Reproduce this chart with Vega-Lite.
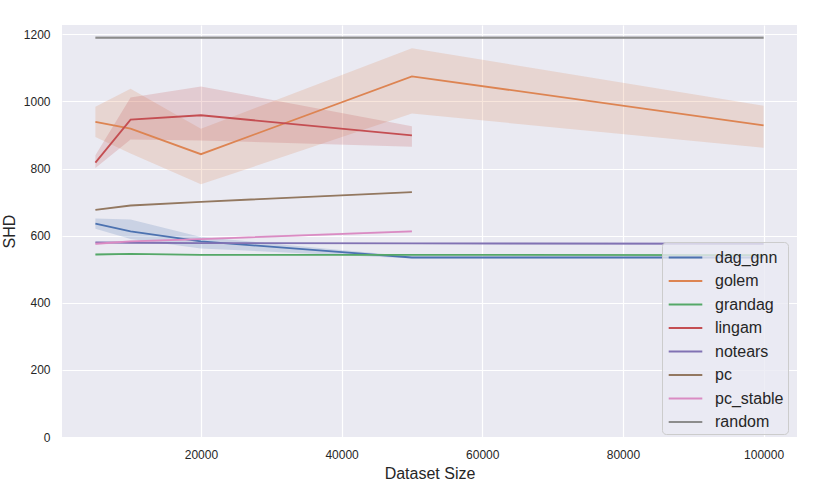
{
  "$schema": "https://vega.github.io/schema/vega-lite/v6.json",
  "width": 735,
  "height": 412,
  "autosize": {"type": "none"},
  "padding": {"left": 62, "top": 25, "right": 17, "bottom": 51},
  "background": "white",
  "config": {
    "font": "Liberation Sans",
    "view": {"fill": "#EAEAF2", "stroke": null},
    "axis": {
      "grid": true, "gridColor": "white", "gridWidth": 1.2, "domain": false, "ticks": false,
      "labelColor": "#262626", "labelFontSize": 12, "labelFont": "Liberation Sans",
      "titleColor": "#262626", "titleFontSize": 16, "titleFontWeight": "normal", "titleFont": "Liberation Sans"
    }
  },
  "data": {"values": [
    {"algo": "dag_gnn", "size": 5000, "shd": 636, "lo": 621, "hi": 651},
    {"algo": "dag_gnn", "size": 10000, "shd": 613, "lo": 590, "hi": 648},
    {"algo": "dag_gnn", "size": 20000, "shd": 583, "lo": 562, "hi": 596},
    {"algo": "dag_gnn", "size": 50000, "shd": 535, "lo": 532, "hi": 538},
    {"algo": "dag_gnn", "size": 100000, "shd": 535, "lo": 533, "hi": 537},
    {"algo": "golem", "size": 5000, "shd": 939, "lo": 894, "hi": 984},
    {"algo": "golem", "size": 10000, "shd": 919, "lo": 845, "hi": 1038},
    {"algo": "golem", "size": 20000, "shd": 843, "lo": 753, "hi": 919},
    {"algo": "golem", "size": 50000, "shd": 1075, "lo": 964, "hi": 1159},
    {"algo": "golem", "size": 100000, "shd": 929, "lo": 862, "hi": 987},
    {"algo": "grandag", "size": 5000, "shd": 544, "lo": 542, "hi": 546},
    {"algo": "grandag", "size": 10000, "shd": 546, "lo": 544, "hi": 548},
    {"algo": "grandag", "size": 20000, "shd": 543, "lo": 541, "hi": 545},
    {"algo": "grandag", "size": 50000, "shd": 543, "lo": 541, "hi": 545},
    {"algo": "grandag", "size": 100000, "shd": 542, "lo": 540, "hi": 544},
    {"algo": "lingam", "size": 5000, "shd": 818, "lo": 802, "hi": 840},
    {"algo": "lingam", "size": 10000, "shd": 946, "lo": 887, "hi": 1012},
    {"algo": "lingam", "size": 20000, "shd": 959, "lo": 884, "hi": 1045},
    {"algo": "lingam", "size": 50000, "shd": 899, "lo": 865, "hi": 926},
    {"algo": "notears", "size": 5000, "shd": 580, "lo": 578, "hi": 582},
    {"algo": "notears", "size": 10000, "shd": 579, "lo": 577, "hi": 581},
    {"algo": "notears", "size": 20000, "shd": 578, "lo": 576, "hi": 580},
    {"algo": "notears", "size": 50000, "shd": 577, "lo": 575, "hi": 579},
    {"algo": "notears", "size": 100000, "shd": 576, "lo": 574, "hi": 578},
    {"algo": "pc", "size": 5000, "shd": 677, "lo": 676, "hi": 678},
    {"algo": "pc", "size": 10000, "shd": 690, "lo": 689, "hi": 691},
    {"algo": "pc", "size": 20000, "shd": 701, "lo": 700, "hi": 702},
    {"algo": "pc", "size": 50000, "shd": 730, "lo": 729, "hi": 731},
    {"algo": "pc_stable", "size": 5000, "shd": 576, "lo": 572, "hi": 580},
    {"algo": "pc_stable", "size": 10000, "shd": 583, "lo": 580, "hi": 586},
    {"algo": "pc_stable", "size": 20000, "shd": 590, "lo": 587, "hi": 593},
    {"algo": "pc_stable", "size": 50000, "shd": 613, "lo": 610, "hi": 616},
    {"algo": "random", "size": 5000, "shd": 1190, "lo": 1186, "hi": 1195},
    {"algo": "random", "size": 10000, "shd": 1190, "lo": 1186, "hi": 1195},
    {"algo": "random", "size": 20000, "shd": 1190, "lo": 1186, "hi": 1195},
    {"algo": "random", "size": 50000, "shd": 1190, "lo": 1186, "hi": 1195},
    {"algo": "random", "size": 100000, "shd": 1190, "lo": 1186, "hi": 1195}
  ]},
  "encoding": {
    "x": {"field": "size", "type": "quantitative", "title": "Dataset Size",
      "scale": {"domain": [250, 104750], "nice": false, "zero": false},
      "axis": {"values": [20000, 40000, 60000, 80000, 100000], "format": "d", "labelPadding": 12, "titlePadding": 5}},
    "color": {"field": "algo", "type": "nominal",
      "scale": {"domain": ["dag_gnn", "golem", "grandag", "lingam", "notears", "pc", "pc_stable", "random"],
        "range": ["#4C72B0", "#DD8452", "#55A868", "#C44E52", "#8172B3", "#937860", "#DA8BC3", "#8C8C8C"]},
      "legend": {
        "title": null, "orient": "none", "legendX": 600, "legendY": 217,
        "symbolType": "M-1.6,0H1.6", "symbolSize": 441, "symbolStrokeWidth": 2, "symbolOpacity": 1,
        "symbolOffset": 8, "labelOffset": 18,
        "labelFontSize": 16, "labelColor": "#262626", "labelFont": "Liberation Sans",
        "padding": 4, "rowPadding": 3.5,
        "fillColor": "rgba(234,234,242,0.8)", "strokeColor": "#CCCCCC", "cornerRadius": 4
      }}
  },
  "layer": [
    {
      "mark": {"type": "area", "opacity": 0.2},
      "encoding": {
        "y": {"field": "lo", "type": "quantitative", "title": "SHD",
          "scale": {"domain": [0, 1228], "nice": false},
          "axis": {"values": [0, 200, 400, 600, 800, 1000, 1200], "format": "d", "labelPadding": 12, "titlePadding": 6}},
        "y2": {"field": "hi"}
      }
    },
    {
      "mark": {"type": "line", "strokeWidth": 1.8},
      "encoding": {
        "y": {"field": "shd", "type": "quantitative"}
      }
    }
  ]
}
